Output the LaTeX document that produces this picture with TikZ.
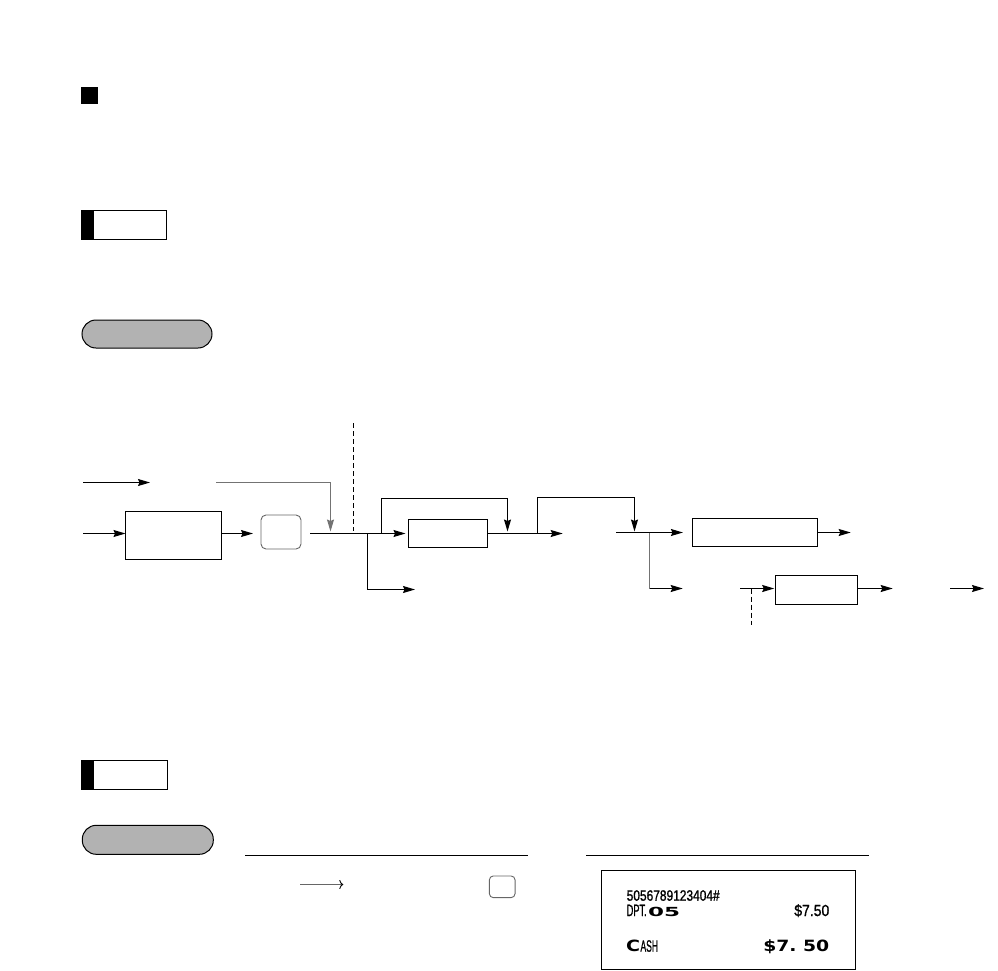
\documentclass[tikz,border=0pt]{standalone}
\usepackage{fontspec}
\setmainfont{Liberation Sans}
\newfontfamily\rcpt[FakeBold=1.2]{Liberation Sans}
\newfontfamily\rbig{DejaVu Sans}
\usetikzlibrary{arrows.meta}
\newcommand\fitw[2]{\resizebox{#1}{\height}{#2}}
\begin{document}
\begin{tikzpicture}[x=1pt,y=-1pt,
  ln/.style={line width=1.1pt},
  arr/.style={ln,-{Stealth[length=12pt,width=7pt,inset=1.5pt]}},
  fbox/.style={draw,line width=1.1pt,inner sep=0,outer sep=0},
  secbox/.style={draw,line width=1.1pt,inner sep=0,outer sep=0},
  pillbox/.style={draw,line width=1pt,fill=gray!60,rounded corners=14pt,inner sep=0,outer sep=0},
  keybox/.style={draw=black!60,line width=0.9pt,rounded corners=5pt,inner sep=0,outer sep=0},
  dsh/.style={line width=1.1pt,dash pattern=on 5pt off 3pt},
  gln/.style={draw=black!55},
  rtxt/.style={inner sep=0,outer sep=0}
]
\useasboundingbox (0,0) rectangle (998,971);

% heading square
\node[fill=black,minimum width=17pt,minimum height=17pt,inner sep=0] (sq) at (89.5,95.5) {};

% section box 1
\node[secbox,minimum width=85pt,minimum height=29pt] (sec1) at (124,225) {};
\fill (sec1.north west) rectangle ([xshift=12.7pt]sec1.south west);

% pill 1
\node[pillbox,minimum width=130pt,minimum height=28pt] (pill1) at (147,334) {};

% ---------- flow diagram ----------
\coordinate (a1s) at (83,482.5);
\coordinate (a1e) at (150,482.5);
\draw[arr] (a1s) -- (a1e);

\coordinate (a2s) at (83,533.5);
\node[fbox,minimum width=96pt,minimum height=48pt] (b1) at (173.5,535.5) {};
\draw[arr] (a2s) -- (b1.west |- a2s);
\coordinate (k1in) at (253,533.5);
\draw[arr] (b1.east |- a2s) -- (k1in);
\node[keybox,minimum width=40pt,minimum height=34pt] (k1) at (281,532) {};

\coordinate (g1) at (216,482.5);
\coordinate (j1) at (330.5,531.5);
\draw[arr,gln] (g1) -| (j1);

\coordinate (m1) at (310,533.5);
\node[fbox,minimum width=79pt,minimum height=28pt] (b2) at (448,533.5) {};
\draw[arr] (m1) -- ([xshift=-3pt]b2.west);

\coordinate (d1t) at (353.5,423);
\coordinate (d1b) at (353.5,531);
\draw[dsh] (d1t) -- (d1b);

\coordinate (br1) at (367.5,533.5);
\coordinate (br1e) at (415,589.5);
\draw[arr] (br1) |- (br1e);

\coordinate (lp1) at (381.5,533.5);
\coordinate (lp1e) at (507.5,531.5);
\draw[arr] (lp1) -- ++(0,-35) -| (lp1e);

\coordinate (m2e) at (562.7,533.5);
\draw[arr] (b2.east) -- (m2e);

\coordinate (lp2) at (537.5,533.5);
\coordinate (lp2e) at (634.5,531.5);
\draw[arr] (lp2) -- ++(0,-36) -| (lp2e);

\coordinate (m3) at (616,532.5);
\node[fbox,minimum width=125pt,minimum height=28pt] (b3) at (755,532.5) {};
\draw[arr] (m3) -- ([xshift=-9.6pt]b3.west);

\coordinate (br2) at (649.5,532.5);
\coordinate (br2e) at (682.7,588.5);
\draw[ln,gln] (br2) -- (br2 |- br2e);
\draw[arr] (br2 |- br2e) -- (br2e);

\coordinate (b3o) at (850.7,532.5);
\draw[arr] (b3.east) -- (b3o);

\coordinate (m4) at (740,588.5);
\node[fbox,minimum width=82pt,minimum height=29pt] (b4) at (816.5,590) {};
\draw[arr] (m4) -- ([xshift=-1.3pt]b4.west |- m4);

\coordinate (d2t) at (751.5,588.5);
\coordinate (d2b) at (751.5,625);
\draw[dsh] (d2t) -- (d2b);

\coordinate (b4o) at (892.7,588.5);
\draw[arr] (b4.east |- m4) -- (b4o);

\coordinate (e1) at (950,588.5);
\coordinate (e2) at (984,588.5);
\draw[arr] (e1) -- (e2);

% ---------- lower section ----------
\node[secbox,minimum width=86pt,minimum height=29pt] (sec2) at (124.5,775) {};
\fill (sec2.north west) rectangle ([xshift=12.7pt]sec2.south west);

\node[pillbox,minimum width=131pt,minimum height=29pt] (pill2) at (147.8,839.8) {};

\coordinate (h1a) at (245,855.5);
\coordinate (h1b) at (527.7,855.5);
\draw[ln] (h1a) -- (h1b);
\coordinate (h2a) at (586,855.5);
\coordinate (h2b) at (869,855.5);
\draw[ln] (h2a) -- (h2b);

\coordinate (ka) at (300,884.5);
\coordinate (kb) at (343.3,884.5);
\draw[line width=0.9pt,draw=black!60,-{To[length=4pt,width=9pt,line width=0.9pt,color=black]}] (ka) -- (kb);

\node[keybox,rounded corners=4pt,minimum width=25.7pt,minimum height=21.7pt] (k2) at (502.2,886.8) {};

% receipt
\node[draw,line width=1.1pt,minimum width=254pt,minimum height=99pt,inner sep=0,outer sep=0] (rc) at (728.5,920) {};
\node[rtxt,anchor=base west] (r1) at (626.7,900.7) {\rcpt\fontsize{15}{15}\selectfont\fitw{93pt}{5056789123404\#}};
\node[rtxt,anchor=base west] (r2) at (626.7,916) {\rcpt\fontsize{16.5}{16.5}\selectfont\fitw{20pt}{DPT.}};
\node[rtxt,anchor=base west] (r3) at (648,916) {\rbig\bfseries\fontsize{12.5}{12.5}\selectfont\fitw{32pt}{05}};
\node[rtxt,anchor=base east] (r4) at (829.3,916) {\rcpt\fontsize{16}{16}\selectfont\fitw{35pt}{\$7.50}};
\node[rtxt,anchor=base west] (r5) at (626,951.7) {\rbig\bfseries\fontsize{15.5}{15.5}\selectfont\fitw{14pt}{C}};
\node[rtxt,anchor=base west] (r6) at (640.5,951.7) {\rcpt\fontsize{16.5}{16.5}\selectfont\fitw{17.5pt}{ASH}};
\node[rtxt,anchor=base east] (r7) at (829.3,951.7) {\rbig\bfseries\fontsize{15.5}{15.5}\selectfont\fitw{66pt}{\$7.\ 50}};
\end{tikzpicture}
\end{document}
